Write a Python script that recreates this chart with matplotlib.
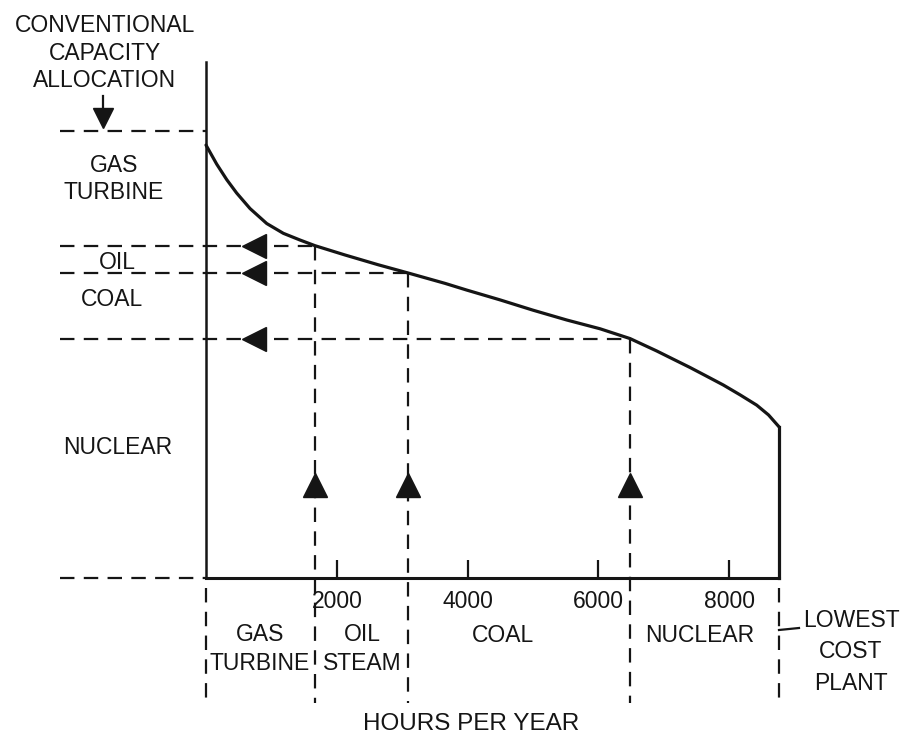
import matplotlib
matplotlib.use("Agg")
import matplotlib.pyplot as plt

# load duration curve (hours per year, % of axis height)
hours = [0, 164, 317, 469, 673, 928, 1182, 1437, 1667, 2125, 2634, 3093,
         3654, 3986, 4495, 5000, 5515, 6024, 6483, 6635, 6890, 7144, 7399,
         7655, 7909, 8164, 8419, 8600, 8760]
load = [83.9, 80.2, 77.2, 74.6, 71.6, 68.7, 66.8, 65.5, 64.4, 62.6, 60.7, 59.1,
        57.1, 55.8, 53.9, 51.9, 50.0, 48.3, 46.4, 45.5, 44.0, 42.4, 40.8,
        39.1, 37.4, 35.5, 33.5, 31.6, 29.3]

# where each plant type takes over
split_hours = [1667, 3093, 6483]
split_load = [64.4, 59.1, 46.4]
peak_alloc = 86.6

xticks = [2000, 4000, 6000, 8000]
left_labels = ["GAS\nTURBINE", "OIL", "COAL", "NUCLEAR"]
bottom_labels = ["GAS\nTURBINE", "OIL\nSTEAM", "COAL", "NUCLEAR"]

W, H = 902, 742
plt.rcParams['font.family'] = ['Liberation Sans', 'DejaVu Sans']
INK = '#151515'
FS = 16.5

fig = plt.figure(figsize=(W / 100, H / 100), dpi=100)
fig.patch.set_facecolor('white')
ax = fig.add_axes([206 / W, 1 - 578 / H, 573 / W, 516 / H])
ax.set_xlim(0, 8760)
ax.set_ylim(0, 100)


def fx(px):
    return px / W


def fy(py):
    return 1 - py / H


def px2h(px):
    return (px - 206) / 573 * 8760


def py2l(py):
    return (578 - py) / 516 * 100


dash = dict(color=INK, lw=1.6, linestyle=(0, (6.5, 4.2)), clip_on=False)
x_left = px2h(60)
y_low = py2l(703)
y_below = py2l(588)

# curve and closing line at year end
ax.plot(hours, load, color=INK, lw=2.3, solid_capstyle='round', clip_on=False)
ax.plot([hours[-1], hours[-1]], [0, load[-1]], color=INK, lw=2.3, clip_on=False)

# horizontal allocation lines
ax.plot([x_left, 0], [peak_alloc, peak_alloc], **dash)
ax.plot([x_left, 0], [0, 0], **dash)
for h, l in zip(split_hours, split_load):
    ax.plot([x_left, h], [l, l], **dash)
    ax.plot([h, h], [l, y_low], **dash)
    ax.plot([px2h(254)], [l], marker='<', ms=17, color=INK, clip_on=False)
    ax.plot([h], [py2l(485)], marker='^', ms=17, color=INK, clip_on=False)

for h in [0, hours[-1]]:
    ax.plot([h, h], [y_below, y_low], **dash)

# axes styling
for s in ['top', 'right']:
    ax.spines[s].set_visible(False)
ax.spines['left'].set_linewidth(1.8)
ax.spines['bottom'].set_linewidth(2.2)
ax.spines['left'].set_color(INK)
ax.spines['bottom'].set_color(INK)
ax.set_yticks([])
ax.set_xticks(xticks)
ax.set_xticklabels([str(t) for t in xticks], fontsize=FS, color=INK)
ax.tick_params(axis='x', direction='in', length=13, width=1.6, pad=9, colors=INK)

# left side labels
fig.text(fx(105), fy(53), "CONVENTIONAL\nCAPACITY\nALLOCATION", ha='center', va='center',
         fontsize=FS, color=INK, linespacing=1.25)
fig.add_artist(plt.Line2D([fx(103), fx(103)], [fy(96), fy(115)], color=INK, lw=1.6))
fig.add_artist(plt.Line2D([fx(103)], [fy(118)], marker='v', ms=14, color=INK))

left_y = [179, 262, 299, 448]
left_x = [114, 117, 112, 118]
for lab, x, y in zip(left_labels, left_x, left_y):
    fig.text(fx(x), fy(y), lab, ha='center', va='center', fontsize=FS, color=INK,
             linespacing=1.25)

# bottom labels
bot_x = [260, 362, 503, 700]
for lab, x in zip(bottom_labels, bot_x):
    if '\n' in lab:
        fig.text(fx(x), fy(649), lab, ha='center', va='center', fontsize=FS, color=INK,
                 linespacing=1.3)
    else:
        fig.text(fx(x), fy(635), lab, ha='center', va='center', fontsize=FS, color=INK)

fig.text(fx(851), fy(652), "LOWEST\nCOST\nPLANT", ha='center', va='center', fontsize=FS,
         color=INK, linespacing=1.45)
fig.add_artist(plt.Line2D([fx(779), fx(799)], [fy(630), fy(628)], color=INK, lw=1.6))

fig.text(fx(471), fy(724), "HOURS PER YEAR", ha='center', va='center', fontsize=FS + 1,
         color=INK)

fig.savefig("out.png", dpi=100, facecolor='white')
